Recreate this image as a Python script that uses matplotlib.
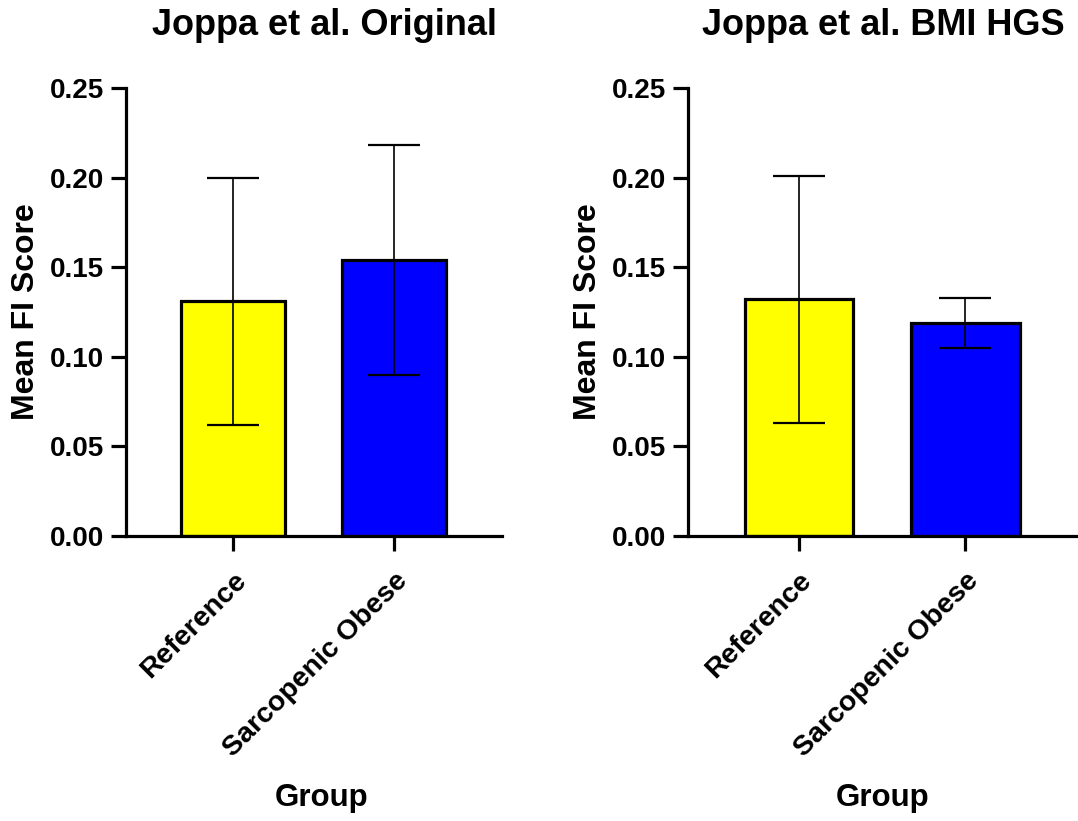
import numpy as np
import matplotlib.pyplot as plt

plt.rcParams['font.family'] = ['Liberation Sans', 'DejaVu Sans']
plt.rcParams['font.weight'] = 'bold'

# data
groups = ['Reference', 'Sarcopenic Obese']
colors = ['#ffff00', '#0000ff']

orig_mean = [0.131, 0.154]
orig_err = [0.069, 0.064]

hgs_mean = [0.132, 0.119]
hgs_err = [0.069, 0.014]

titles = ['Joppa et al. Original', 'Joppa et al. BMI HGS']
yticks = [0.00, 0.05, 0.10, 0.15, 0.20, 0.25]

fig = plt.figure(figsize=(10.78, 8.21), dpi=100)
ax1 = fig.add_axes([126/1078, 1-536/821, 376/1078, 448/821])
ax2 = fig.add_axes([688/1078, 1-536/821, 389/1078, 448/821])

title_x = [0.527, 0.501]
group_x = [0.519, 0.5]
for ax, means, errs, title, tx, gx in zip([ax1, ax2], [orig_mean, hgs_mean],
                                          [orig_err, hgs_err], titles,
                                          title_x, group_x):
    x = np.arange(len(groups))
    ax.bar(x, means, width=0.65, color=colors, edgecolor='black',
           linewidth=2.3, zorder=2)
    ax.errorbar(x, means, yerr=errs, fmt='none', ecolor='black',
                elinewidth=1.2, capsize=18.5, capthick=1.6, zorder=3)
    ax.set_xlim(-0.665, 1.67)
    ax.set_ylim(0, 0.25)
    ax.set_yticks(yticks)
    ax.set_yticklabels(['%.2f' % v for v in yticks], fontsize=20)
    ax.set_xticks(x)
    ax.set_xticklabels(groups, fontsize=20.5, rotation=45, ha='right',
                       rotation_mode='anchor')
    for s in ['top', 'right']:
        ax.spines[s].set_visible(False)
    for s in ['left', 'bottom']:
        ax.spines[s].set_linewidth(2.3)
    ax.tick_params(axis='y', length=11, width=2.3, pad=5)
    ax.tick_params(axis='x', length=11, width=2.3, pad=12)
    ax.set_ylabel('Mean FI Score', fontsize=23, fontweight='bold', labelpad=6)
    ax.set_xlabel('Group', fontsize=22.5, fontweight='bold', labelpad=15)
    ax.xaxis.label.set_x(gx)
    ax.set_title(title, fontsize=26, fontweight='bold', x=tx, pad=38)

plt.savefig('out.png', dpi=100)
